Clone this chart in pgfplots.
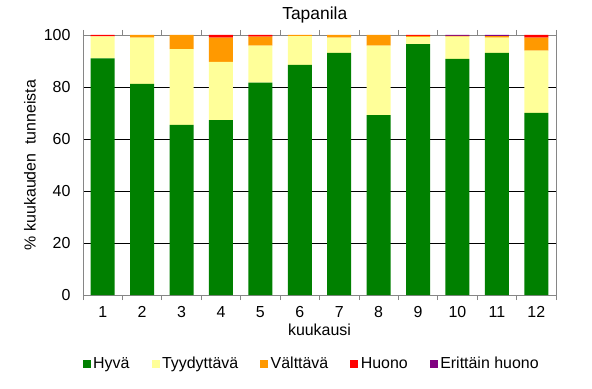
\documentclass[border=0pt]{standalone}
\usepackage{pgfplots}
\pgfplotsset{compat=1.18}
\usepackage{fontspec}
\setmainfont{Liberation Sans}
\definecolor{cg}{HTML}{008000}
\definecolor{cy}{HTML}{FFFF99}
\definecolor{co}{HTML}{FF9900}
\definecolor{cr}{HTML}{FF0000}
\definecolor{cp}{HTML}{800080}
\definecolor{ax}{HTML}{868686}
\begin{document}
\begin{tikzpicture}[x=1bp,y=1bp]
\path[use as bounding box] (0,0) rectangle (592,388);
\begin{axis}[
  at={(83bp,93bp)}, anchor=south west,
  scale only axis, width=473bp, height=260bp,
  ybar stacked, bar width=24bp,
  xmin=0.5, xmax=12.5, ymin=0, ymax=100,
  xtick={1,...,12}, ytick={0,20,...,100},
  minor xtick={0.5,1.5,...,12.5},
  major tick length=0pt, minor tick length=5bp,
  tick align=outside,
  minor x tick style={draw=ax, line width=0.8bp},
  axis line style={draw=ax, line width=0.8bp},
  ymajorgrids, major grid style={black, line width=0.8bp},
  font=\fontsize{16}{18}\selectfont,
  /pgf/number format/assume math mode=true,
  ticklabel style={font=\fontsize{16}{18}\selectfont},
  xticklabel style={yshift=-8bp},
  yticklabel style={xshift=-9bp},
  title={Tapanila},
  title style={at={(axis description cs:0.49,1.035)}, anchor=base, font=\fontsize{17.5}{19}\selectfont},
  xlabel={kuukausi},
  xlabel style={at={(axis description cs:0.5,-0.154)}, anchor=base},
  ylabel={\% kuukauden\ \ tunneista},
  ylabel style={at={(axis description cs:-0.112,0.5)}, anchor=center, rotate=0},
  legend columns=5,
  legend style={at={(axis description cs:0.484,-0.265)}, anchor=center, draw=none, fill=none,
    font=\fontsize{16}{18}\selectfont,
    /tikz/every even column/.append style={column sep=19.5bp},
    nodes={inner xsep=2.5bp}},
  legend image code/.code={\fill[#1] (0bp,-4bp) rectangle (8bp,4bp);},
  every axis plot/.append style={draw=none},
]
\addplot[fill=cg] coordinates {(1,91.0) (2,81.2) (3,65.4) (4,67.3) (5,81.7) (6,88.5) (7,93.1) (8,69.2) (9,96.5) (10,90.8) (11,93.1) (12,70.0)};
\addplot[fill=cy] coordinates {(1,8.5) (2,17.8) (3,29.2) (4,22.4) (5,14.2) (6,11.1) (7,5.9) (8,26.7) (9,2.8) (10,8.6) (11,5.9) (12,24.0)};
\addplot[fill=co] coordinates {(1,0) (2,1.0) (3,5.4) (4,9.3) (5,3.5) (6,0.4) (7,1.0) (8,4.1) (9,0.4) (10,0.3) (11,0.6) (12,5.0)};
\addplot[fill=cr] coordinates {(1,0.5) (2,0) (3,0) (4,1.0) (5,0.6) (6,0) (7,0) (8,0) (9,0.3) (10,0) (11,0) (12,1.0)};
\addplot[fill=cp] coordinates {(1,0) (2,0) (3,0) (4,0) (5,0) (6,0) (7,0) (8,0) (9,0) (10,0.3) (11,0.4) (12,0)};
\legend{Hyvä,Tyydyttävä,Välttävä,Huono,Erittäin huono}
\end{axis}
\end{tikzpicture}
\end{document}
